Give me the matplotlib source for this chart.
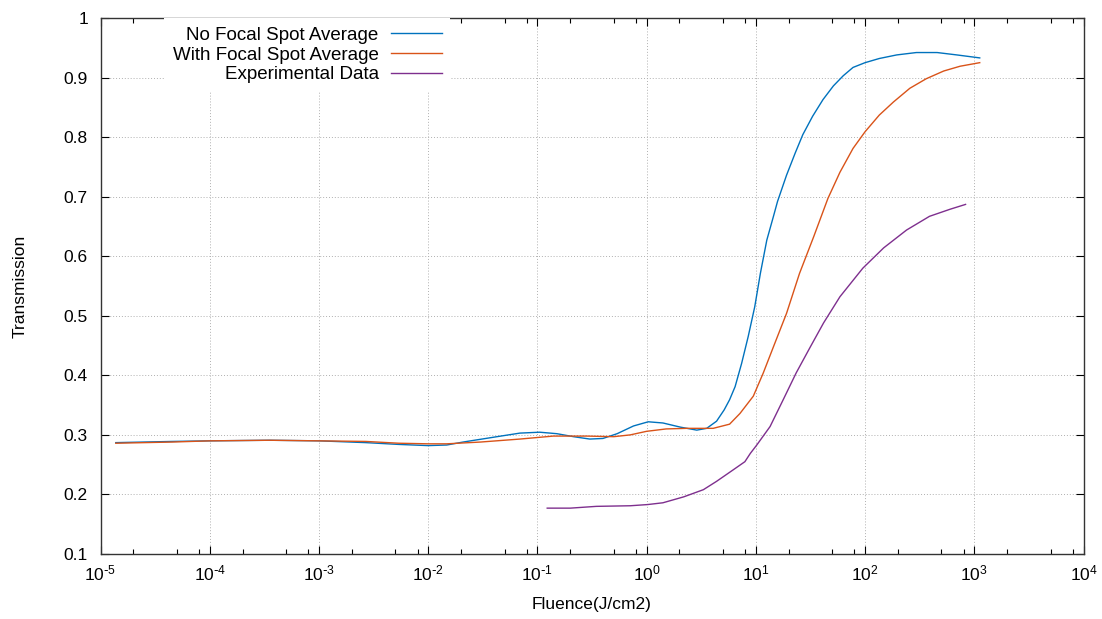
import numpy as np
import matplotlib
matplotlib.use("Agg")
import matplotlib.pyplot as plt
from matplotlib.ticker import FixedLocator, FuncFormatter, NullFormatter

plt.rcParams['font.family'] = ['Liberation Sans', 'DejaVu Sans']
plt.rcParams['mathtext.default'] = 'regular'
plt.rcParams['axes.unicode_minus'] = False

# ---------------- DATA ----------------
# No focal spot average
fluence_nofocal = [1.38e-5, 4.57e-5, 1e-4, 3.55e-4, 1e-3, 2.69e-3, 5.37e-3, 1e-2,
                   1.48e-2, 2.09e-2, 4.27e-2, 6.92e-2, 0.105, 0.151, 0.214, 0.302,
                   0.398, 0.537, 0.759, 1.035, 1.41, 2.04, 2.88, 3.55, 4.37, 5.13,
                   5.75, 6.46, 7.41, 8.51, 9.77, 11.0, 12.6, 14.5, 15.8, 19.1,
                   22.9, 26.9, 33.1, 41.2, 51.3, 63.1, 77.6, 100, 135, 195,
                   295, 457, 692, 1122]
trans_nofocal = [0.287, 0.289, 0.290, 0.291, 0.290, 0.287, 0.284, 0.282,
                 0.283, 0.288, 0.297, 0.303, 0.3045, 0.302, 0.297, 0.293,
                 0.294, 0.302, 0.315, 0.322, 0.320, 0.313, 0.308, 0.311, 0.323, 0.342,
                 0.359, 0.381, 0.420, 0.465, 0.515, 0.571, 0.627, 0.667, 0.692, 0.736,
                 0.773, 0.804, 0.835, 0.863, 0.886, 0.903, 0.917, 0.925, 0.932, 0.938,
                 0.942, 0.942, 0.938, 0.933]

# With focal spot average
fluence_focal = [1.38e-5, 4.57e-5, 1e-4, 3.55e-4, 1e-3, 2.69e-3, 5.37e-3, 1e-2,
                 1.48e-2, 3.02e-2, 6.92e-2, 0.140, 0.282, 0.501, 0.708, 1.0,
                 1.51, 2.34, 4.07, 5.75, 7.16, 9.48, 11.7, 14.5, 19.1, 25.1,
                 33.9, 45.7, 58.9, 77.6, 100, 135, 182, 257, 363, 525,
                 741, 1122]
trans_focal = [0.286, 0.288, 0.290, 0.291, 0.290, 0.289, 0.286, 0.285,
               0.285, 0.288, 0.293, 0.298, 0.298, 0.297, 0.300, 0.306,
               0.310, 0.311, 0.311, 0.318, 0.336, 0.365, 0.404, 0.448, 0.504, 0.571,
               0.633, 0.697, 0.741, 0.781, 0.809, 0.837, 0.859, 0.882, 0.898, 0.911,
               0.919, 0.925]

# Experimental data
fluence_exp = [0.123, 0.200, 0.347, 0.708, 1.02, 1.41, 2.19, 3.31, 4.37, 6.17,
               7.94, 8.91, 10.2, 13.5, 17.8, 23.4, 31.6, 41.7, 58.9, 95.5,
               148, 240, 389, 603, 832]
trans_exp = [0.177, 0.177, 0.180, 0.181, 0.183, 0.186, 0.196, 0.208, 0.222, 0.241,
             0.255, 0.269, 0.283, 0.314, 0.359, 0.404, 0.448, 0.488, 0.532, 0.580,
             0.614, 0.644, 0.667, 0.679, 0.687]

x_ticks = [1e-5, 1e-4, 1e-3, 1e-2, 1e-1, 1e0, 1e1, 1e2, 1e3, 1e4]
y_ticks = [0.1, 0.2, 0.3, 0.4, 0.5, 0.6, 0.7, 0.8, 0.9, 1.0]

BLUE = '#0072bd'
ORANGE = '#d95319'
PURPLE = '#7e2f8e'


def pow10_label(v, pos):
    # gnuplot style: short hyphen in the exponent
    e = int(round(np.log10(v)))
    s = str(abs(e))
    if e < 0:
        s = r'\text{-}' + s
    return f'$10^{{{s}}}$'


# ---------------- PLOT ----------------
fig = plt.figure(figsize=(11.02, 6.19), dpi=100)
ax = fig.add_axes([100.5 / 1102, (619 - 554) / 619, 983 / 1102, 536 / 619])

ax.plot(fluence_nofocal, trans_nofocal, color=BLUE, lw=1.0, label='No Focal Spot Average')
ax.plot(fluence_focal, trans_focal, color=ORANGE, lw=1.0, label='With Focal Spot Average')
ax.plot(fluence_exp, trans_exp, color=PURPLE, lw=1.0, label='Experimental Data')

ax.set_xscale('log')
ax.set_xlim(1e-5, 1e4)
ax.set_ylim(0.1, 1.0)

ax.set_xticks(x_ticks)
minor = [m * t for t in x_ticks[:-1] for m in (2, 5, 8)]
ax.xaxis.set_minor_locator(FixedLocator(minor))
ax.xaxis.set_minor_formatter(NullFormatter())
ax.xaxis.set_major_formatter(FuncFormatter(pow10_label))
ax.set_yticks(y_ticks)
ax.yaxis.set_major_formatter(FuncFormatter(lambda v, p: f'{v:g}'))

ax.tick_params(which='both', direction='in', top=True, right=True, labelsize=12.5,
               colors='black')
ax.tick_params(which='major', length=6, width=0.8)
ax.tick_params(which='minor', length=3.5, width=0.8)
ax.tick_params(axis='y', pad=9)
ax.tick_params(axis='x', pad=7)

ax.grid(True, which='major', linestyle=(0, (1, 2)), color='#b0b0b0', lw=0.7)
for s in ax.spines.values():
    s.set_linewidth(1.0)
    s.set_color('#333333')

ax.set_xlabel('Fluence(J/cm2)', fontsize=12.5)
ax.set_ylabel('Transmission', fontsize=12.5)
ax.xaxis.label.set_va('center')
ax.yaxis.label.set_va('center')
ax.xaxis.set_label_coords(0.5, (554 - 605) / 536)
ax.yaxis.set_label_coords((20 - 100.5) / 983, 0.5)

leg = ax.legend(loc='upper right', bbox_to_anchor=((450 - 100.5) / 983, 1.0),
                borderaxespad=0, markerfirst=False, frameon=True, fancybox=False,
                edgecolor='none', facecolor='white', framealpha=1.0,
                fontsize=13.5, handlelength=2.7, handletextpad=0.65,
                labelspacing=0.15, borderpad=0.45)
# right-align the legend rows like gnuplot does
leg._legend_box._children[-1]._children[0].align = 'right'

fig.savefig('out.png', dpi=100)
